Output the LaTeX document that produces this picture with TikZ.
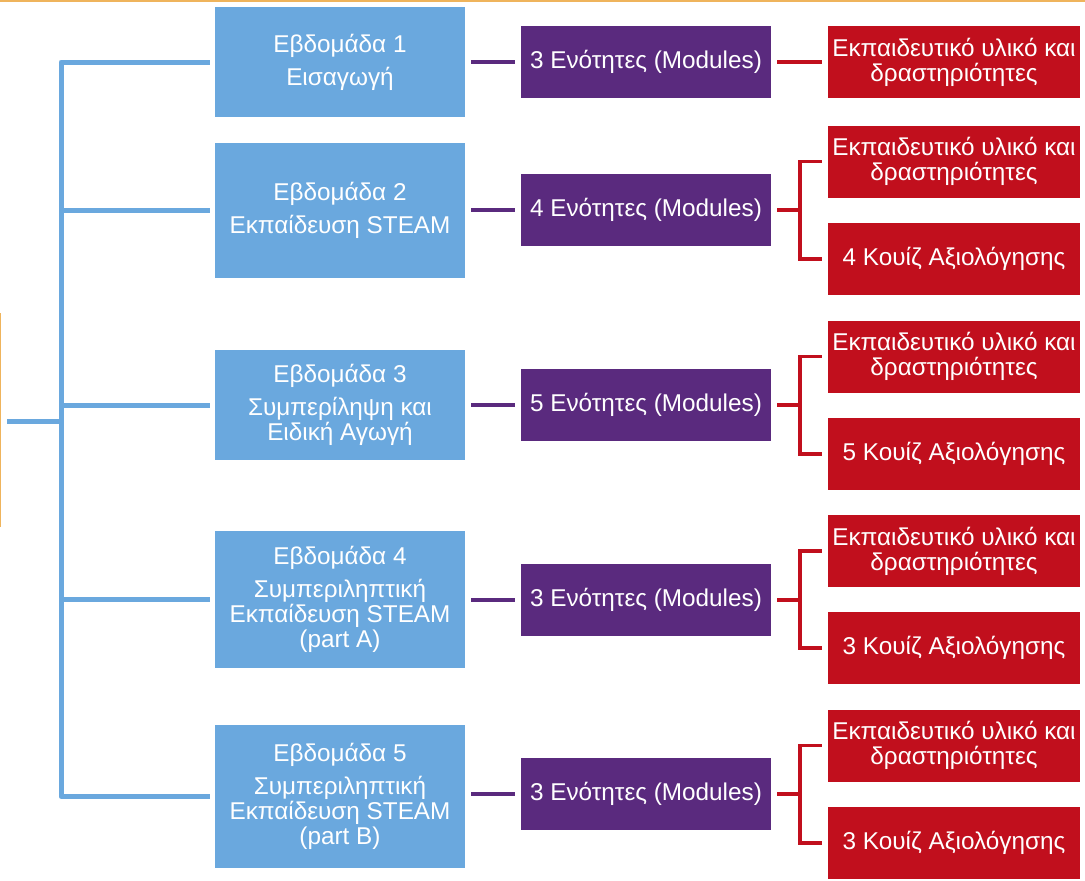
\documentclass[tikz,border=0pt]{standalone}
\usepackage{fontspec}
\setmainfont{Liberation Sans}
\usepackage{tikz}

\definecolor{weekblue}{HTML}{6AA8DE}
\definecolor{unitpurple}{HTML}{5A2A7E}
\definecolor{itemred}{HTML}{C10F1D}
\definecolor{rootorange}{HTML}{EFB45C}

\begin{document}
\begin{tikzpicture}
[
    x = 1pt, y = -1pt,
    every node/.style = {inner sep = 0pt, text = white, align = center,
        font = \fontsize{24.3}{25}\selectfont},
    week/.style = {fill = weekblue, minimum width = 250pt},
    unit/.style = {fill = unitpurple, minimum width = 250pt, minimum height = 72pt},
    item/.style = {fill = itemred, minimum width = 252pt, minimum height = 72pt},
    weeklink/.style = {draw = weekblue, line width = 5pt, line join = round},
    unitlink/.style = {draw = unitpurple, line width = 3.5pt},
    itemlink/.style = {draw = itemred, line width = 3.5pt},
]
\useasboundingbox (0,0) rectangle (1085,881);

% cut-off outline of the root box
\draw[rootorange, line width = 3pt] (0,0) -- (1085,0);
\draw[rootorange, line width = 2pt] (0,313) -- (0,527);

% weeks
\node[week, minimum height = 110pt] (w1) at (340,62)
    {Εβδομάδα 1\\[8pt]Εισαγωγή};
\node[week, minimum height = 135pt] (w2) at (340,210.5)
    {Εβδομάδα 2\\[8pt]Εκπαίδευση STEAM};
\node[week, minimum height = 110pt] (w3) at (340,405)
    {Εβδομάδα 3\\[8pt]Συμπερίληψη και\\Ειδική Αγωγή};
\node[week, minimum height = 137pt] (w4) at (340,599.5)
    {Εβδομάδα 4\\[8pt]Συμπεριληπτική\\Εκπαίδευση STEAM\\(part A)};
\node[week, minimum height = 143pt] (w5) at (340,796.5)
    {Εβδομάδα 5\\[8pt]Συμπεριληπτική\\Εκπαίδευση STEAM\\(part B)};

% modules
\node[unit] (u1) at (646,62) {3 Ενότητες (Modules)};
\node[unit] (u2) at (646,210) {4 Ενότητες (Modules)};
\node[unit] (u3) at (646,405) {5 Ενότητες (Modules)};
\node[unit] (u4) at (646,600) {3 Ενότητες (Modules)};
\node[unit] (u5) at (646,794) {3 Ενότητες (Modules)};

% material and quizzes
\node[item] (m1) at (954,62) {Εκπαιδευτικό υλικό και\\δραστηριότητες};
\node[item] (m2) at (954,161.5) {Εκπαιδευτικό υλικό και\\δραστηριότητες};
\node[item] (q2) at (954,259) {4 Κουίζ Αξιολόγησης};
\node[item] (m3) at (954,356.5) {Εκπαιδευτικό υλικό και\\δραστηριότητες};
\node[item] (q3) at (954,454) {5 Κουίζ Αξιολόγησης};
\node[item] (m4) at (954,551) {Εκπαιδευτικό υλικό και\\δραστηριότητες};
\node[item] (q4) at (954,648) {3 Κουίζ Αξιολόγησης};
\node[item] (m5) at (954,745.5) {Εκπαιδευτικό υλικό και\\δραστηριότητες};
\node[item] (q5) at (954,843) {3 Κουίζ Αξιολόγησης};

% week tree
\coordinate (root) at (7,421);
\coordinate (spine) at (61,421);
\draw[weeklink] (root) -- (spine);
\draw[weeklink, shorten >= 5pt] (spine) |- (w1.west);
\draw[weeklink, shorten >= 5pt] (spine) |- (w2.west);
\draw[weeklink, shorten >= 5pt] (spine) |- (w3.west);
\draw[weeklink, shorten >= 5pt] (spine) |- (w4.west);
\draw[weeklink, shorten >= 5pt] (spine) |- (w5.west);

% weeks to modules
\draw[unitlink, shorten <= 6pt, shorten >= 6pt] (w1.east |- u1) -- (u1.west);
\draw[unitlink, shorten <= 6pt, shorten >= 6pt] (w2.east |- u2) -- (u2.west);
\draw[unitlink, shorten <= 6pt, shorten >= 6pt] (w3.east |- u3) -- (u3.west);
\draw[unitlink, shorten <= 6pt, shorten >= 6pt] (w4.east |- u4) -- (u4.west);
\draw[unitlink, shorten <= 6pt, shorten >= 6pt] (w5.east |- u5) -- (u5.west);

% modules to items
\draw[itemlink, shorten <= 6pt, shorten >= 6pt] (u1.east) -- (m1.west);

\coordinate (f2) at (800,210);
\coordinate (f3) at (800,405);
\coordinate (f4) at (800,600);
\coordinate (f5) at (800,794);
\draw[itemlink, shorten <= 6pt] (u2.east) -- (f2);
\draw[itemlink, shorten <= 6pt] (u3.east) -- (f3);
\draw[itemlink, shorten <= 6pt] (u4.east) -- (f4);
\draw[itemlink, shorten <= 6pt] (u5.east) -- (f5);
\draw[itemlink, shorten >= 6pt] (f2) |- (m2.west);
\draw[itemlink, shorten >= 6pt] (f2) |- (q2.west);
\draw[itemlink, shorten >= 6pt] (f3) |- (m3.west);
\draw[itemlink, shorten >= 6pt] (f3) |- (q3.west);
\draw[itemlink, shorten >= 6pt] (f4) |- (m4.west);
\draw[itemlink, shorten >= 6pt] (f4) |- (q4.west);
\draw[itemlink, shorten >= 6pt] (f5) |- (m5.west);
\draw[itemlink, shorten >= 6pt] (f5) |- (q5.west);
\end{tikzpicture}
\end{document}
